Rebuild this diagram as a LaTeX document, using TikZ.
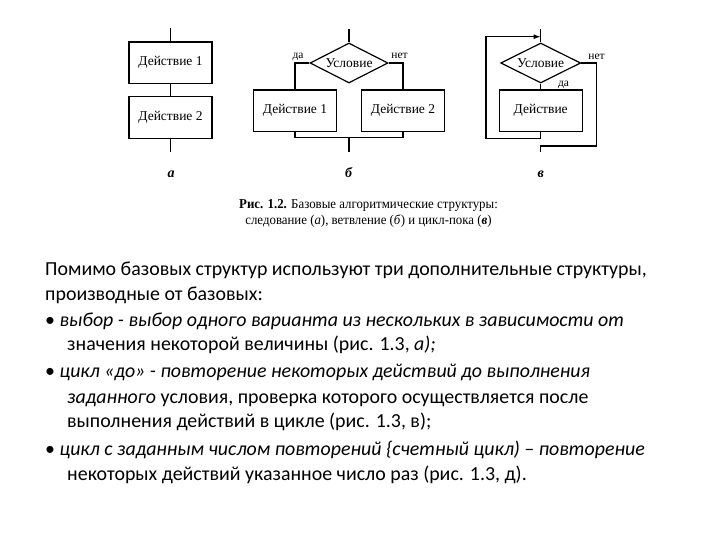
\documentclass[tikz,border=0pt]{standalone}
\usepackage{fontspec}
\usepackage{graphicx}
\setmainfont{Carlito}
\newfontfamily\figfont{Liberation Serif}
\usetikzlibrary{shapes.geometric,arrows.meta}
\begin{document}
\begin{tikzpicture}[x=1pt,y=-1pt,
  box/.style={draw, line width=1.2pt, minimum width=83pt, minimum height=41.5pt, inner sep=0pt, font=\figfont\fontsize{13.5}{15}\selectfont},
  cond/.style={draw, diamond, aspect=2, line width=1.2pt, minimum width=80pt, minimum height=40pt, inner sep=0pt, font=\figfont\fontsize{13.5}{15}\selectfont},
  ln/.style={line width=1.2pt},
  lab/.style={font=\figfont\fontsize{11.5}{13}\selectfont, inner sep=0pt},
  sub/.style={font=\figfont\bfseries\itshape\fontsize{14}{16}\selectfont, inner sep=0pt, anchor=base},
  body/.style={anchor=base west, inner sep=0pt, font=\fontsize{19.9}{23}\selectfont}
]
\useasboundingbox (0,0) rectangle (720,540);
% ---- a
\node[box] (a1) at (170.5,62.7) {Действие 1};
\node[box] (a2) at (170.5,117.5) {Действие 2};
\coordinate (atop) at (170.5,28);
\coordinate (abot) at (170.5,152);
\draw[ln] (atop) -- (a1.north);
\draw[ln] (a1.south) -- (a2.north);
\draw[ln] (a2.south) -- (abot);
\node[sub] (la) at (171,177.5) {а};
% ---- b
\node[cond, minimum width=78pt] (bc) at (349,63) {Условие};
\node[box] (b1) at (295,110.8) {Действие 1};
\node[box] (b2) at (403,110.8) {Действие 2};
\coordinate (btop) at (349,29);
\coordinate (bj) at (349,137.3);
\coordinate (bbot) at (349,151.7);
\draw[ln] (btop) -- (bc.north);
\draw[ln] (bc.west) -| (b1.north);
\draw[ln] (bc.east) -| (b2.north);
\draw[ln] (b1.south) |- (bj) -| (b2.south);
\draw[ln] (bj) -- (bbot);
\node[lab] (byes) at (298,56.5) {да};
\node[lab] (bno) at (399.5,56) {нет};
\node[sub] (lb) at (348.5,177.5) {б};
% ---- c
\node[cond] (cc) at (540.7,63) {Условие};
\node[box] (c1) at (540.7,110.8) {Действие};
\coordinate (ctop) at (540.7,29);
\coordinate (cin) at (540.7,36.7);
\coordinate (cl) at (486,36.7);
\coordinate (cr) at (596.7,146);
\coordinate (cexit) at (540.7,146);
\coordinate (cbot) at (540.7,152);
\draw[ln] (ctop) -- (cc.north);
\draw[ln, -{Latex[length=7pt,width=5pt]}] (c1.south) -- ++(0,6.3) -| (cl) -- (cin);
\draw[ln] (cc.east) -| (cr) -- (cexit) -- (cbot);
\draw[ln] (cc.south) -- (c1.north);
\node[lab] (cyes) at (563.5,85) {да};
\node[lab] (cno) at (596.5,57) {нет};
\node[sub] (lc) at (540.7,177.5) {в};
% ---- caption
\node[font=\figfont\fontsize{13.6}{16.5}\selectfont, align=center, inner sep=0pt] (cap) at (368.5,213.5)
  {\scalebox{0.945}[1]{\textbf{Рис. 1.2.} Базовые алгоритмические структуры:}\\
   \scalebox{0.945}[1]{следование (\textit{а}), ветвление (\textit{б}) и цикл-пока (\textbf{\textit{в}})}};
% ---- body text
\node[body] (t1) at (45,275) {Помимо базовых структур используют три дополнительные структуры,};
\node[body] (t2) at (45,300.7) {производные от базовых:};
\node[body] (t3) at (45,326) {• \textit{выбор - выбор одного варианта из нескольких в зависимости от}};
\node[body] (t4) at (67,350) {значения некоторой величины (рис. 1.3, \textit{а);}};
\node[body] (t5) at (45,377.7) {• \textit{цикл «до» - повторение некоторых действий до выполнения}};
\node[body] (t6) at (67,403) {\textit{заданного} условия, проверка которого осуществляется после};
\node[body] (t7) at (67,427.7) {выполнения действий в цикле (рис. 1.3, в);};
\node[body] (t8) at (45,455) {• \textit{цикл с заданным числом повторений \{счетный цикл) – повторение}};
\node[body] (t9) at (67,480) {некоторых действий указанное число раз (рис. 1.3, д).};
\end{tikzpicture}
\end{document}
